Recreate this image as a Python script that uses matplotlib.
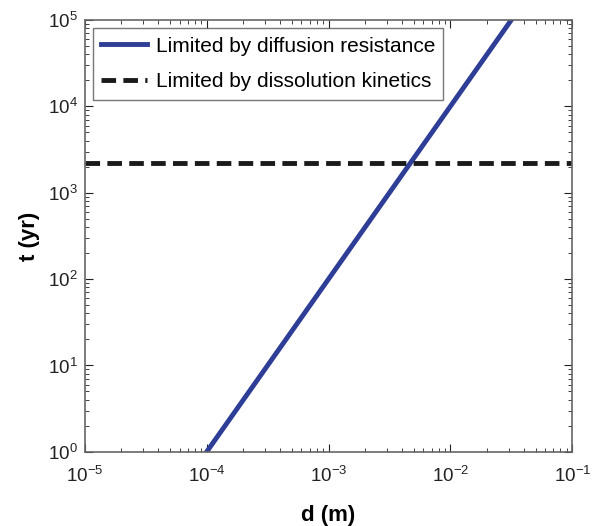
import matplotlib
matplotlib.use("Agg")
import matplotlib.pyplot as plt
from matplotlib.ticker import LogLocator

plt.rcParams['font.family'] = ['Liberation Sans', 'DejaVu Sans']
plt.rcParams['mathtext.fontset'] = 'custom'
plt.rcParams['mathtext.rm'] = 'Liberation Sans'

# diffusion-limited time grows with d^2
d_diff = [1e-4, 3.16e-2]
t_diff = [1.0, 1.0e5]
# dissolution-kinetics limit (constant)
d_kin = [1e-5, 1e-1]
t_kin = [2.2e3, 2.2e3]

fig = plt.figure(figsize=(5.93, 5.26), dpi=100)
ax = fig.add_axes([0.143, 0.141, 0.822, 0.821])

ax.plot(d_diff, t_diff, color='#2e3d96', lw=3.5, label='Limited by diffusion resistance')
ax.plot(d_kin, t_kin, color='#1a1a1a', lw=3.5, ls=(0, (3, 1.5)), label='Limited by dissolution kinetics')

ax.set_xscale('log')
ax.set_yscale('log')
ax.set_xlim(1e-5, 1e-1)
ax.set_ylim(1e0, 1e5)
ax.xaxis.set_major_locator(LogLocator(base=10, numticks=10))
ax.yaxis.set_major_locator(LogLocator(base=10, numticks=10))
ax.xaxis.set_minor_locator(LogLocator(base=10, subs=range(2, 10), numticks=20))
ax.yaxis.set_minor_locator(LogLocator(base=10, subs=range(2, 10), numticks=20))

ax.tick_params(which='both', direction='in', top=True, right=True, colors='#222222',
               labelsize=13.5)
ax.tick_params(which='major', length=6)
ax.tick_params(which='minor', length=3)
ax.tick_params(axis='x', which='major', pad=10)
ax.tick_params(axis='y', which='major', pad=5)
for s in ax.spines.values():
    s.set_color('#666666')
    s.set_linewidth(1.2)

ax.set_xlabel('d (m)', fontsize=16, fontweight='bold', labelpad=14)
ax.set_ylabel('t (yr)', fontsize=16, fontweight='bold', labelpad=6)

leg = ax.legend(loc='upper left', fontsize=15, frameon=True, fancybox=False,
                edgecolor='#555555', handlelength=2.2, borderpad=0.4,
                labelspacing=0.8, handletextpad=0.4, borderaxespad=0.4)
leg.get_frame().set_linewidth(1.0)

fig.savefig('out.png', dpi=100)
